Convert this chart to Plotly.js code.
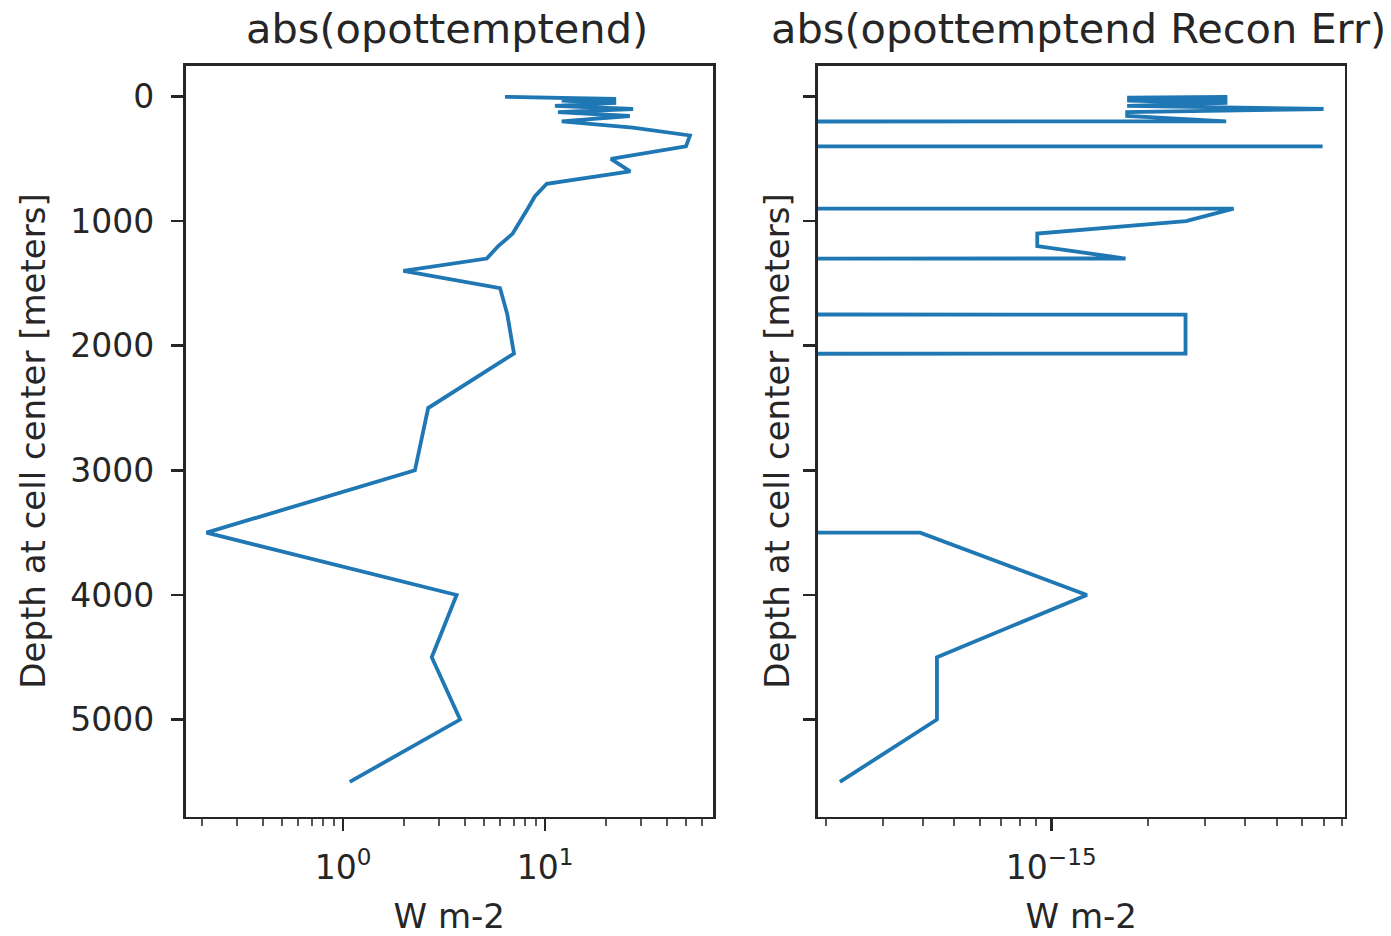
<!DOCTYPE html>
<html>
<head>
<meta charset="utf-8">
<script src="https://cdn.plot.ly/plotly-3.0.1.min.js"></script>
<style>
  html, body { margin: 0; padding: 0; background: #ffffff; }
  #chart { width: 1391px; height: 936px; }
</style>
</head>
<body>
<div id="chart"></div>
<script>
// ---- data ----
const depth = [2.5, 10, 20, 32.5, 51.25, 75, 100, 125, 156.25, 200, 250, 312.5, 400, 500, 600,
  700, 800, 900, 1000, 1100, 1200, 1300, 1400, 1537.5, 1750, 2062.5, 2500, 3000, 3500, 4000,
  4500, 5000, 5500];

const opottemptend = [6.34, 13.6, 22.5, 12.1, 22.5, 11.2, 27.3, 11.6, 26.3, 12.1, 27.2, 52.2, 49.9,
  21.2, 26.4, 10.2, 8.92, 8.21, 7.52, 6.92, 5.87, 5.15, 1.99, 5.99, 6.51, 7.02, 2.64, 2.27,
  0.211, 3.65, 2.75, 3.80, 1.08];

const reconErr = [3.52e-15, 1.72e-15, 3.52e-15, 1.72e-15, 3.52e-15, 1.72e-15, 7.0e-15, 1.72e-15,
  1.72e-15, 3.49e-15, 0, 0, 6.95e-15, 0, 0, 0, 0, 3.68e-15, 2.62e-15, 9.05e-16, 9.05e-16,
  1.70e-15, 0, 0, 2.61e-15, 2.61e-15, 0, 0, 3.92e-16, 1.29e-15, 4.42e-16, 4.42e-16, 2.21e-16];

const depthTicks = [0, 1000, 2000, 3000, 4000, 5000];
const depthTickText = ['0', '1000', '2000', '3000', '4000', '5000'];

const leftMajorTicks = [1, 10];
const leftMajorText = ['10<sup>0</sup>', '10<sup>1</sup>'];
const leftMinorTicks = [0.2, 0.3, 0.4, 0.5, 0.6, 0.7, 0.8, 0.9, 2, 3, 4, 5, 6, 7, 8, 9, 20, 30, 40, 50, 60];

const rightMajorTicks = [1e-15];
const rightMajorText = ['10<sup>\u221215</sup>'];
const rightMinorTicks = [2e-16, 3e-16, 4e-16, 5e-16, 6e-16, 7e-16, 8e-16, 9e-16,
  2e-15, 3e-15, 4e-15, 5e-15, 6e-15, 7e-15, 8e-15];

const titles = ['abs(opottemptend)', 'abs(opottemptend Recon Err)'];
const xLabel = 'W m-2';
const yLabel = 'Depth at cell center [meters]';

// ---- layout geometry ----
const W = 1391, H = 936;
const px = v => v / W;
const py = v => 1 - v / H;

// matplotlib log axes clip non-positive values to a tiny number
const clipLog = arr => arr.map(v => (v > 0 ? v : 1e-300));

const lineColor = '#1f77b4';
const ink = '#262626';
const fontFam = 'DejaVu Sans, sans-serif';

const traces = [
  { x: opottemptend, y: depth, xaxis: 'x', yaxis: 'y', mode: 'lines', type: 'scatter',
    line: { color: lineColor, width: 3.8 }, hoverinfo: 'skip' },
  { x: clipLog(reconErr), y: depth, xaxis: 'x2', yaxis: 'y2', mode: 'lines', type: 'scatter',
    line: { color: lineColor, width: 3.8 }, hoverinfo: 'skip' }
];

const frame = {
  showline: true, mirror: true, linecolor: ink, linewidth: 2.7,
  showgrid: false, zeroline: false, automargin: false,
  ticks: 'outside', ticklen: 12, tickwidth: 2.7, tickcolor: ink,
  tickfont: { family: fontFam, size: 33, color: ink }
};

const yRange = [5778, -249];
const labelFont = { family: fontFam, size: 34, color: ink };

const layout = {
  width: W, height: H,
  margin: { l: 0, r: 0, t: 0, b: 0 },
  paper_bgcolor: '#ffffff', plot_bgcolor: '#ffffff',
  showlegend: false,
  font: { family: fontFam, color: ink },
  xaxis: Object.assign({}, frame, {
    type: 'log', domain: [px(185.5), px(713)], range: [-0.7797, 1.8317], anchor: 'y',
    tickmode: 'array', tickvals: leftMajorTicks, ticktext: leftMajorText, ticklabelstandoff: 8,
    minor: { ticks: 'outside', ticklen: 7, tickwidth: 2, tickcolor: '#555555',
             tickmode: 'array', tickvals: leftMinorTicks, showgrid: false },
    title: { text: xLabel, font: labelFont, standoff: 19 }
  }),
  yaxis: Object.assign({}, frame, {
    domain: [py(816.5), py(65.5)], range: yRange, anchor: 'x', autorange: false,
    tickmode: 'array', tickvals: depthTicks, ticktext: depthTickText, ticklabelstandoff: 10,
    title: { text: yLabel, font: labelFont, standoff: 15 }
  }),
  xaxis2: Object.assign({}, frame, {
    type: 'log', domain: [px(818), px(1344.5)], range: [-15.7236, -14.0901], anchor: 'y2',
    tickmode: 'array', tickvals: rightMajorTicks, ticktext: rightMajorText, ticklabelstandoff: 8,
    minor: { ticks: 'outside', ticklen: 7, tickwidth: 2, tickcolor: '#555555',
             tickmode: 'array', tickvals: rightMinorTicks, showgrid: false },
    title: { text: xLabel, font: labelFont, standoff: 19 }
  }),
  yaxis2: Object.assign({}, frame, {
    domain: [py(816.5), py(65.5)], range: yRange, anchor: 'x2', autorange: false,
    tickmode: 'array', tickvals: depthTicks, showticklabels: false,
    title: { text: yLabel, font: labelFont, standoff: 4 }
  }),
  annotations: [
    { text: titles[0], xref: 'paper', yref: 'paper', x: px(447), y: py(28),
      xanchor: 'center', yanchor: 'middle', showarrow: false,
      font: { family: fontFam, size: 41.5, color: ink } },
    { text: titles[1], xref: 'paper', yref: 'paper', x: px(1078.5), y: py(28),
      xanchor: 'center', yanchor: 'middle', showarrow: false,
      font: { family: fontFam, size: 41.5, color: ink } }
  ]
};

Plotly.newPlot('chart', traces, layout, { displayModeBar: false, staticPlot: true });
</script>
</body>
</html>
